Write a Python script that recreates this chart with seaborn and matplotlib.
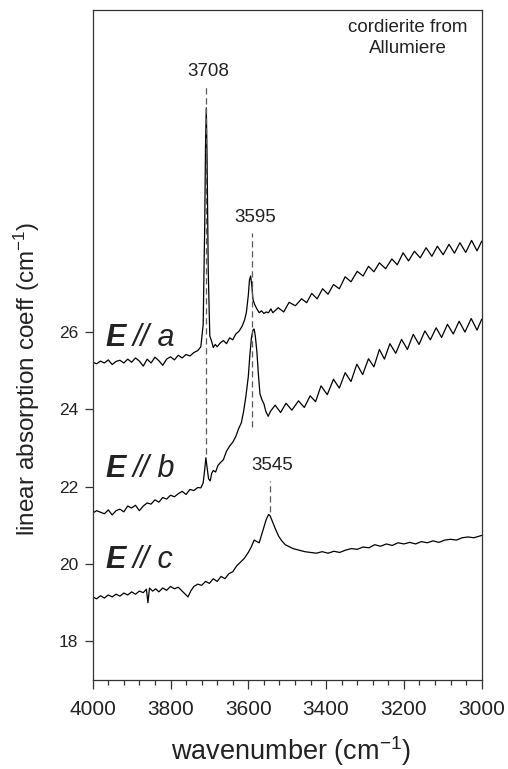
import numpy as np
import pandas as pd
import matplotlib
matplotlib.use("Agg")
import matplotlib.pyplot as plt
from matplotlib.ticker import MultipleLocator
import seaborn as sns

# ---------------- data ----------------
wn_a = [4000, 3990, 3980, 3970, 3960, 3950, 3940, 3930, 3920, 3910, 3900, 3890, 3880, 3870,
        3860, 3850, 3840, 3830, 3820, 3810, 3800, 3790, 3780, 3770, 3760, 3750, 3740, 3730,
        3722, 3716, 3712, 3710, 3708, 3706, 3703, 3699, 3694, 3690, 3685, 3680, 3672, 3664,
        3656, 3648, 3640, 3632, 3624, 3616, 3610, 3605, 3600, 3597, 3594, 3591, 3588, 3584,
        3578, 3572, 3566, 3560, 3554, 3548, 3542,
        3537, 3523, 3509, 3495, 3479, 3463, 3450, 3437, 3423, 3409, 3395, 3381, 3366, 3351,
        3336, 3320, 3305, 3291, 3277, 3263, 3247, 3231, 3217, 3202, 3188, 3173, 3158, 3143,
        3128, 3114, 3099, 3084, 3070, 3056, 3041, 3026, 3012, 3000]
abs_a = [25.22, 25.18, 25.25, 25.20, 25.28, 25.16, 25.24, 25.27, 25.20, 25.30, 25.22, 25.33,
         25.25, 25.12, 25.30, 25.20, 25.35, 25.26, 25.14, 25.30, 25.36, 25.28, 25.40, 25.33,
         25.42, 25.38, 25.47, 25.52, 25.62, 26.20, 28.80, 30.80, 31.80, 30.50, 27.60, 25.90,
         25.75, 25.60, 25.68, 25.62, 25.72, 25.78, 25.70, 25.85, 25.80, 25.95, 26.02, 26.15,
         26.30, 26.50, 26.95, 27.35, 27.45, 27.20, 26.85, 26.72, 26.60, 26.50, 26.55, 26.48,
         26.52, 26.50, 26.60,
         26.50, 26.63, 26.52, 26.77, 26.68, 26.86, 26.76, 27.00, 26.86, 27.12, 26.98, 27.23,
         27.12, 27.43, 27.30, 27.57, 27.45, 27.70, 27.56, 27.79, 27.64, 27.89, 27.74, 28.05,
         27.84, 28.09, 27.92, 28.18, 27.96, 28.22, 28.00, 28.27, 28.04, 28.31, 28.06, 28.37,
         28.10, 28.35]

wn_b = [4000, 3990, 3980, 3970, 3960, 3950, 3940, 3930, 3920, 3910, 3900, 3890, 3880, 3870,
        3860, 3850, 3840, 3830, 3820, 3810, 3800, 3790, 3780, 3770, 3760, 3750, 3740, 3730,
        3722, 3716, 3712, 3709, 3706, 3702, 3698, 3694, 3690, 3684, 3678, 3672, 3664, 3656,
        3648, 3640, 3632, 3625, 3618, 3612, 3606, 3600, 3596, 3592, 3588, 3585, 3582, 3578,
        3574, 3570, 3565, 3560, 3555, 3549, 3543,
        3531, 3517, 3503, 3488, 3471, 3456, 3441, 3427, 3413, 3397, 3381, 3366, 3351, 3336,
        3321, 3306, 3291, 3277, 3263, 3250, 3236, 3221, 3206, 3191, 3176, 3161, 3146, 3132,
        3117, 3103, 3088, 3073, 3058, 3043, 3027, 3012, 3000]
abs_b = [21.32, 21.38, 21.34, 21.30, 21.40, 21.27, 21.38, 21.42, 21.35, 21.50, 21.45, 21.52,
         21.38, 21.50, 21.58, 21.55, 21.66, 21.60, 21.72, 21.68, 21.78, 21.74, 21.82, 21.88,
         21.80, 21.93, 21.90, 21.98, 21.97, 22.10, 22.45, 22.75, 22.50, 22.20, 22.15, 22.35,
         22.42, 22.38, 22.55, 22.62, 22.70, 22.92, 23.05, 23.15, 23.30, 23.50, 23.65, 23.95,
         24.35, 24.85, 25.40, 25.85, 26.05, 26.08, 25.90, 25.50, 24.90, 24.40, 24.25, 24.15,
         23.95, 23.82, 23.95,
         24.11, 23.92, 24.16, 23.98, 24.22, 24.05, 24.35, 24.20, 24.61, 24.38, 24.78, 24.55,
         24.95, 24.72, 25.17, 24.90, 25.31, 25.10, 25.55, 25.30, 25.70, 25.45, 25.81, 25.55,
         25.94, 25.68, 26.03, 25.80, 26.11, 25.86, 26.20, 25.95, 26.28, 26.00, 26.35, 26.05,
         26.33]

wn_c = [4000, 3990, 3980, 3970, 3960, 3950, 3940, 3930, 3920, 3910, 3900, 3890, 3880, 3870,
        3862, 3858, 3854, 3846, 3838, 3830, 3820, 3810, 3800, 3790, 3780, 3770, 3762, 3755,
        3748, 3740, 3730, 3720, 3710, 3700, 3690, 3680, 3670, 3660, 3650, 3640, 3630, 3620,
        3610, 3600, 3592, 3585, 3578, 3572, 3566, 3560, 3554, 3548, 3544, 3538, 3530, 3522,
        3514, 3505, 3495, 3485, 3470, 3455, 3440, 3425, 3410, 3395, 3380, 3365, 3350, 3335,
        3320, 3305, 3290, 3275, 3260, 3245, 3230, 3215, 3200, 3185, 3170, 3155, 3140, 3125,
        3110, 3095, 3080, 3065, 3050, 3035, 3020, 3000]
abs_c = [19.15, 19.10, 19.18, 19.12, 19.20, 19.15, 19.22, 19.17, 19.25, 19.20, 19.28, 19.22,
         19.30, 19.26, 19.35, 19.00, 19.38, 19.30, 19.36, 19.28, 19.38, 19.32, 19.42, 19.36,
         19.40, 19.30, 19.22, 19.15, 19.30, 19.42, 19.48, 19.45, 19.55, 19.50, 19.62, 19.55,
         19.68, 19.62, 19.75, 19.80, 19.95, 20.05, 20.15, 20.30, 20.45, 20.62, 20.58, 20.55,
         20.75, 20.95, 21.15, 21.28, 21.25, 21.10, 20.90, 20.72, 20.60, 20.50, 20.45, 20.40,
         20.36, 20.32, 20.30, 20.28, 20.32, 20.28, 20.33, 20.30, 20.36, 20.40, 20.38, 20.44,
         20.42, 20.50, 20.46, 20.52, 20.48, 20.55, 20.52, 20.56, 20.52, 20.58, 20.55, 20.60,
         20.56, 20.62, 20.64, 20.62, 20.68, 20.70, 20.68, 20.74]

series_labels = ["a", "b", "c"]
label_y = [25.64, 22.24, 19.89]

peak_pos = [3708, 3590, 3544]
peak_text = ["3708", "3595", "3545"]
peak_text_x = [3703, 3582, 3539]
peak_text_y = [32.75, 28.97, 22.55]
peak_line_top = [32.36, 28.57, 22.15]
peak_line_bottom = [22.84, 23.55, 21.35]

x_ticks = [4000, 3800, 3600, 3400, 3200, 3000]
y_ticks = [18, 20, 22, 24, 26]

# ---------------- style ----------------
sns.set_style("ticks")
plt.rcParams["font.family"] = ["Liberation Sans", "DejaVu Sans"]
plt.rcParams["mathtext.fontset"] = "custom"
plt.rcParams["mathtext.rm"] = "Liberation Sans"
plt.rcParams["mathtext.it"] = "Liberation Sans:italic"
plt.rcParams["mathtext.bf"] = "Liberation Sans:bold"

fig = plt.figure(figsize=(5.08, 7.69), dpi=100)
ax = fig.add_axes([0.1825, 0.1157, 0.7657, 0.8713])

frames = []
for lab, wn, ab in zip(series_labels, [wn_a, wn_b, wn_c], [abs_a, abs_b, abs_c]):
    frames.append(pd.DataFrame({"wn": wn, "abs": ab, "pol": lab}))
df = pd.concat(frames, ignore_index=True)

sns.lineplot(data=df, x="wn", y="abs", hue="pol", units="pol", estimator=None,
             palette=["black"] * 3, legend=False, lw=0.9, sort=False, ax=ax)

# peak markers
for pos, txt, tx, ty, top, bot in zip(peak_pos, peak_text, peak_text_x, peak_text_y,
                                       peak_line_top, peak_line_bottom):
    ax.plot([pos, pos], [bot, top], color="#5a5a5a", lw=0.9, dashes=(5, 3), zorder=5)
    ax.text(tx, ty, txt, ha="center", va="center", fontsize=13.5, color="#222222")

# polarisation labels
for lab, yy in zip(series_labels, label_y):
    ax.text(3966, yy, "E", fontsize=22, fontweight="bold", fontstyle="italic",
            ha="left", va="baseline", color="#222222")
    ax.text(3898, yy, "// " + lab, fontsize=22, fontstyle="italic",
            ha="left", va="baseline", color="#222222")

ax.text(3189, 34.1, "cordierite from\nAllumiere", ha="center", va="top",
        fontsize=13.5, linespacing=1.3, color="#222222")

ax.set_xlim(4000, 3000)
ax.set_ylim(17.0, 34.33)
ax.set_xticks(x_ticks)
ax.set_xticklabels([str(v) for v in x_ticks])
ax.xaxis.set_minor_locator(MultipleLocator(40))
ax.set_yticks(y_ticks)
ax.set_yticklabels([str(v) for v in y_ticks])
ax.set_xlabel("")
ax.set_ylabel("")

for s in ax.spines.values():
    s.set_visible(True)
    s.set_linewidth(0.9)
    s.set_color("#333333")

ax.tick_params(axis="x", which="major", direction="out", length=6.5, width=0.9,
               labelsize=15, pad=8, color="#333333", labelcolor="#222222")
ax.tick_params(axis="x", which="minor", direction="out", length=3.6, width=0.9,
               color="#333333")
ax.tick_params(axis="y", which="major", direction="out", length=5.5, width=0.9,
               labelsize=12.5, pad=5, color="#333333", labelcolor="#222222")

fig.text(291 / 508, 1 - 751 / 769, "wavenumber (cm$^{-1}$)", ha="center", va="center",
         fontsize=19.5, color="#222222")
fig.text(27 / 508, 1 - 379 / 769, "linear absorption coeff (cm$^{-1}$)", ha="center",
         va="center", rotation=90, fontsize=17.5, color="#222222")

fig.savefig("out.png", dpi=100)
